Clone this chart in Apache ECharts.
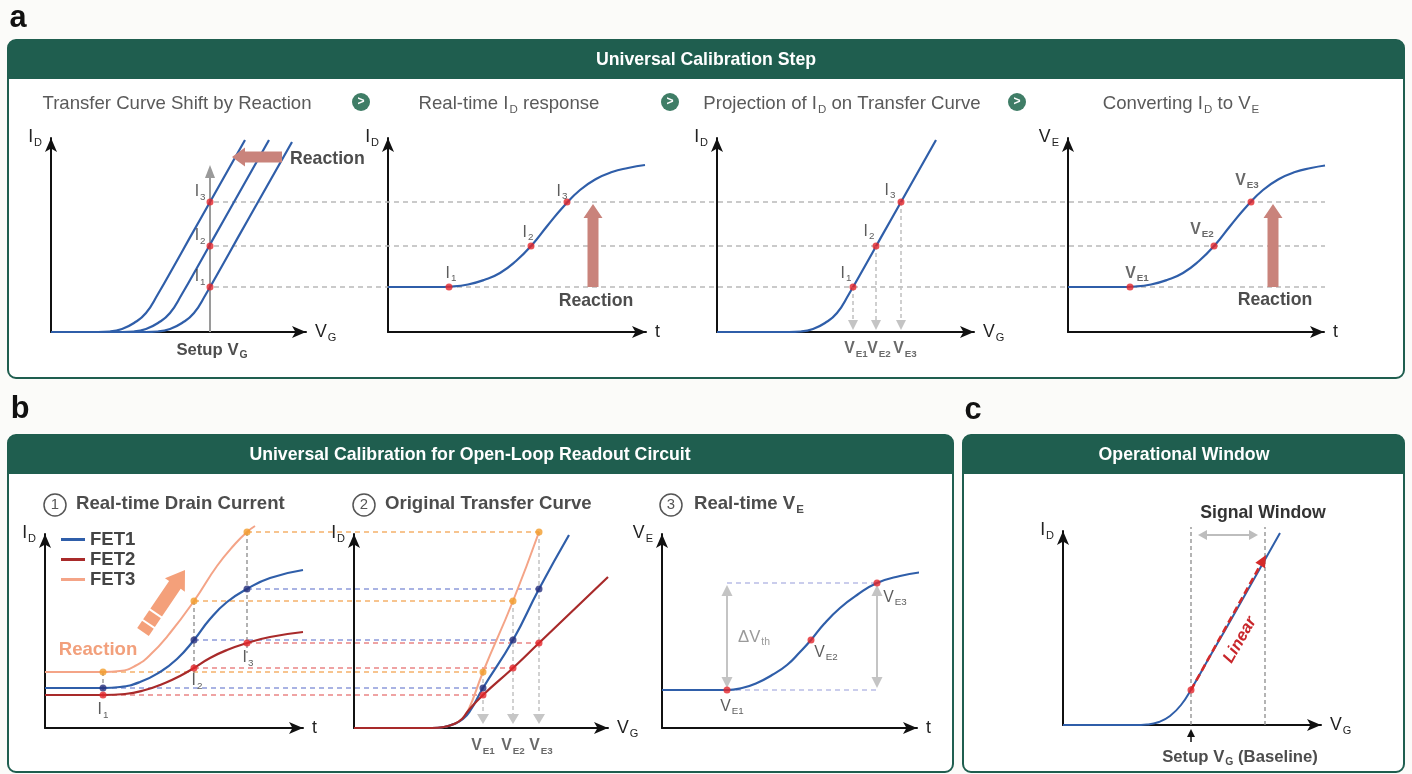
<!DOCTYPE html>
<html><head><meta charset="utf-8">
<script src="https://cdn.jsdelivr.net/npm/echarts@6/dist/echarts.min.js"></script>
<style>html,body{margin:0;padding:0;background:#fbfbf9}#c{width:1412px;height:774px}</style>
</head><body><div id="c"></div>
<script>
// ================= DATA (schematic units) =================
// Panel a-1: transfer curves shifted by reaction (x: V_G, y: I_D)
const a1CurveLeft  = [[0,0],[47,0],[59,0.5],[71,3],[83,9],[95,19],[107,38],[123,66],[139,94.6],[159,130],[194,192]];
const a1CurveMid   = [[0,0],[71,0],[83,0.5],[95,3],[107,9],[119,19],[131,38],[147,66],[163,94.6],[183,130],[218,192]];
const a1CurveRight = [[0,0],[95,0],[107,0.5],[119,3],[131,9],[143,19],[155,38],[171,66],[187,94.6],[207,130],[241,190]];
const setupVG = 159;
const currentLevels = [45, 86, 130];          // I1, I2, I3
const guideSpan = [163, 1274];                // extent of dashed I-level guides (a-1 units)
const setupArrow = [159, 0, 159, 167];
const a1ReactionArrow = [231, 175, 181, 175];
// Panel a-2: real-time I_D
const a2Curve = [[0,45],[48,45],[64,45.5],[80,47.5],[96,52],[112,59],[128,71],[144,87],[160,107],[176,126],[192,142],[208,153],[224,160],[240,164],[257,167]];
const a2Times = [61, 143, 179];
const a2ReactionArrow = [205, 45, 205, 128];
// Panel a-3: projection on transfer curve
const a3Curve = [[0,0],[72,0],[84,0.5],[96,3],[108,9],[120,19],[132,38],[148,66],[164,94.6],[184,130],[219,192]];
const a3VE = [136, 159, 184];
// Panel a-4: converting I_D to V_E
const a4Curve = [[0,45],[51,45],[67,45.5],[83,47.5],[99,52],[115,59],[131,71],[147,87],[163,107],[179,126],[195,142],[211,153],[227,160],[243,164],[257,166.5]];
const a4Times = [62, 146, 183];
const a4ReactionArrow = [205, 45, 205, 128];

// Panel b-1: real-time drain current
const fetNames = ['FET1', 'FET2', 'FET3'];
const b1FET1 = [[0,40],[58,40],[75,41],[95,46],[115,56],[132,69],[149,88],[165,109],[182,126],[202,139],[225,150],[258,158]];
const b1FET2 = [[0,33],[58,33],[80,34],[100,38],[120,45],[135,52],[149,60],[165,70],[182,78],[202,85],[225,91],[258,96]];
const b1FET3 = [[0,56],[58,56],[75,57],[90,62],[105,73],[125,95],[149,127],[172,162],[190,184],[202,196],[210,202]];
const b1Times = [58, 149, 202];
const b1FET1Pts = [40, 88, 139];
const b1FET2Pts = [33, 60, 85];
const b1FET3Pts = [56, 127, 196];
const b1DropEnd = [28, 55, 75];
const b1LinkEnd = [438, 468, 494];
const b1ReactionArrow = [98, 96, 140, 158];
// Panel b-2: original transfer curves
const b2FET1 = [[0,0],[78,0],[90,1],[100,4],[109,9],[116,17],[129,40],[159,88],[185,139],[215,193]];
const b2FET2 = [[0,0],[78,0],[90,1],[100,4],[108,9],[114,17],[129,33],[159,60],[185,85],[254,151]];
const b2FET3 = [[0,0],[78,0],[90,1],[100,4],[108,9],[114,17],[129,56],[159,127],[185,196]];
const b2VE = [129, 159, 185];
// Panel b-3: real-time V_E
const b3Curve = [[0,38],[55,38],[65,38],[80,40],[95,45],[110,53],[125,63],[138,76],[149,88],[162,104],[178,120],[195,133],[215,145],[238,152],[261,156]];
const b3Times = [65, 149, 215];
const b3VE = [38, 88, 145];
const b3Bracket = [40, 143];
// Panel c: operational window
const cCurve = [[0,0],[72,0],[84,0.5],[96,3],[107,9],[118,20],[129.5,38],[146,67],[165,100],[217,192]];
const cWindow = [128, 202];
const cWindowTop = 198;
const cBaselineI = 35;
const cLinearEnd = [203, 170];
const cWindowArrow = [135, 190, 195, 190];
const cSetupArrow = [128, -17, 128, -4];

// ================= FONTS =================
function hasFont(f){
  const c = document.createElement('canvas').getContext('2d');
  const s = 'abcdefghijklmnopqrstuvwxyz WMIl1 0123456789';
  c.font = '40px monospace'; const w1 = c.measureText(s).width;
  c.font = '40px serif'; const w2 = c.measureText(s).width;
  c.font = '40px "' + f + '", monospace'; const a = c.measureText(s).width;
  c.font = '40px "' + f + '", serif'; const b = c.measureText(s).width;
  return a !== w1 || b !== w2;
}
const NARROW = ['Liberation Sans Narrow','Arial Narrow','Nimbus Sans Narrow'].find(hasFont);
const FONT = NARROW ? '"' + NARROW + '", "Liberation Sans", Arial, sans-serif' : '"Liberation Sans", Arial, sans-serif';
const K = NARROW ? 1 : 0.93;
const fs = n => Math.round(n * K * 10) / 10;

// ================= STYLE =================
const GREEN = '#1f5e4f', GREEN2 = '#3f7d66';
const BLUE = '#2f5ea9', DRED = '#a82a2a', SALMON = '#f4a487';
const DOT_RED = '#e3262b', DOT_ORANGE = '#f39c2b', DOT_NAVY = '#27307c';
const PINK = '#c9837b', GUIDE = '#b9b9b9';
const TXT = '#4d4d4d';

// grid rectangles: left, top, width, height  (1 data unit = 1 px)
const G = [
  [51,138,255,194],[388,138,258,194],[717,138,257,194],[1068,138,256,194],
  [45,534,258,194],[354,534,254,194],[662,534,255,194],[1063,531,258,194]
];
const axisDefs = [
  ['V','G','I','D'],['t','','I','D'],['V','G','I','D'],['t','','V','E'],
  ['t','','I','D'],['V','G','I','D'],['t','','V','E'],['V','G','I','D']
];

function rich(size, weight, color){
  const m = fs(size), s = fs(size * 0.62);
  return {
    m: {fontSize: m, fontWeight: weight, color: color, fill: color, fontFamily: FONT},
    s: {fontSize: s, fontWeight: weight, color: color, fill: color, fontFamily: FONT, padding: [Math.round(m * 0.62), 0, 0, 1]}
  };
}
const sub = (m, s) => s ? '{m|' + m + '}{s|' + s + '}' : '{m|' + m + '}';

const grids = G.map(g => ({left: g[0], top: g[1], width: g[2], height: g[3], containLabel: false, outerBoundsMode: 'none', show: false}));
const axLine = {show: true, onZero: false, symbol: ['none','arrow'], symbolSize: [9,14], lineStyle: {color: '#111', width: 2}};
const xAxes = G.map((g,i) => ({
  gridIndex: i, type: 'value', min: 0, max: g[2], axisLine: axLine, axisTick: {show:false}, axisLabel: {show:false}, splitLine: {show:false},
  name: sub(axisDefs[i][0], axisDefs[i][1]), nameLocation: 'end', nameGap: 9, nameMoveOverlap: false,
  nameTextStyle: {align: 'left', verticalAlign: 'middle', rich: rich(19, 'normal', '#222')}
}));
const yAxes = G.map((g,i) => ({
  gridIndex: i, type: 'value', min: 0, max: g[3], axisLine: axLine, axisTick: {show:false}, axisLabel: {show:false}, splitLine: {show:false},
  name: sub(axisDefs[i][2], axisDefs[i][3]), nameLocation: 'end', nameGap: 12, nameMoveOverlap: false,
  nameTextStyle: {align: 'right', verticalAlign: 'top', padding: [0, 9, 0, 0], rich: rich(19, 'normal', '#222')}
}));

// ---------- series helpers ----------
function curve(gi, data, color, name, width){
  return {type: 'line', name: name, xAxisIndex: gi, yAxisIndex: gi, data: data, smooth: 0.5,
    showSymbol: false, clip: false, silent: true, z: 4, lineStyle: {color: color, width: width || 2.2}, itemStyle: {color: color}};
}
// straight (dashed) segments drawn through the axes' scales; allowed to run past the grid
function segs(gi, list, color, width, dash, z){
  return {type: 'custom', xAxisIndex: gi, yAxisIndex: gi, clip: false, silent: true, z: z || 2, data: list,
    renderItem: function(params, api){
      const a = api.coord([api.value(0), api.value(1)]), b = api.coord([api.value(2), api.value(3)]);
      return {type: 'line', shape: {x1: a[0], y1: a[1], x2: b[0], y2: b[1]}, style: {stroke: color, lineWidth: width, lineDash: dash || null}};
    }};
}
function dots(gi, pts, color, lab){
  return {type: 'scatter', xAxisIndex: gi, yAxisIndex: gi, symbolSize: lab && lab.hidden ? 0 : 7, clip: false, silent: true, z: 6,
    itemStyle: {color: color},
    data: pts.map((p, i) => lab ? {value: p, label: {show: true, formatter: lab.text[i], position: lab.pos, distance: lab.dist == null ? 3 : lab.dist,
      offset: lab.off ? lab.off[i] : [0,0], rich: lab.rich}} : {value: p})};
}
function arrows(gi, data, st){
  return {type: 'custom', xAxisIndex: gi, yAxisIndex: gi, clip: false, silent: true, z: st.z || 5, data: data,
    renderItem: function(params, api){
      const p1 = api.coord([api.value(0), api.value(1)]);
      const p2 = api.coord([api.value(2), api.value(3)]);
      const dx = p2[0]-p1[0], dy = p2[1]-p1[1], L = Math.hypot(dx, dy);
      const ux = dx/L, uy = dy/L, nx = -uy, ny = ux;
      const hl = st.headL, hw = st.headW/2;
      const ch = [];
      if (st.block){
        const s = st.shaft/2, bx = p2[0]-ux*hl, by = p2[1]-uy*hl;
        ch.push({type: 'polygon', shape: {points: [[p1[0]+nx*s,p1[1]+ny*s],[bx+nx*s,by+ny*s],[bx+nx*hw,by+ny*hw],[p2[0],p2[1]],
          [bx-nx*hw,by-ny*hw],[bx-nx*s,by-ny*s],[p1[0]-nx*s,p1[1]-ny*s]]}, style: {fill: st.color}});
        (st.stripes || []).forEach(f => {
          const cx = p1[0]+dx*f, cy = p1[1]+dy*f;
          ch.push({type: 'line', shape: {x1: cx+nx*(s+1), y1: cy+ny*(s+1), x2: cx-nx*(s+1), y2: cy-ny*(s+1)}, style: {stroke: '#fff', lineWidth: 2}});
        });
      } else {
        const sx = st.double ? p1[0]+ux*hl*0.8 : p1[0], sy = st.double ? p1[1]+uy*hl*0.8 : p1[1];
        const ex = p2[0]-ux*hl*0.8, ey = p2[1]-uy*hl*0.8;
        ch.push({type: 'line', shape: {x1: sx, y1: sy, x2: ex, y2: ey}, style: {stroke: st.color, lineWidth: st.width, lineDash: st.dash || null}});
        const head = (t, d) => ({type: 'polygon', shape: {points: [[t[0],t[1]],[t[0]-d[0]*hl+nx*hw, t[1]-d[1]*hl+ny*hw],[t[0]-d[0]*hl-nx*hw, t[1]-d[1]*hl-ny*hw]]},
          style: {fill: st.color}});
        ch.push(head(p2, [ux, uy]));
        if (st.double) ch.push(head(p1, [-ux, -uy]));
      }
      return {type: 'group', children: ch};
    }};
}

const LR = rich(17, 'normal', '#333');
const LRB = rich(17, 'bold', '#444');
const S = [];

// ---- panel a-1
S.push(segs(0, currentLevels.map(lv => [guideSpan[0], lv, guideSpan[1], lv]), GUIDE, 1.6, [5,4], 1));
S.push(curve(0, a1CurveLeft, BLUE), curve(0, a1CurveMid, BLUE), curve(0, a1CurveRight, BLUE));
S.push(arrows(0, [setupArrow], {color: '#9a9a9a', width: 2, headL: 13, headW: 10, z: 3}));
S.push(dots(0, currentLevels.map(lv => [setupVG, lv]), DOT_RED,
  {text: ['1','2','3'].map(n => sub('I', n)), pos: 'left', dist: 1, off: [[0,-10],[0,-10],[0,-10]], rich: LR}));
S.push(arrows(0, [a1ReactionArrow], {block: true, color: PINK, shaft: 11, headW: 19, headL: 13}));
// ---- panel a-2
S.push(curve(1, a2Curve, BLUE));
S.push(dots(1, a2Times.map((t,i) => [t, currentLevels[i]]), DOT_RED,
  {text: ['1','2','3'].map(n => sub('I', n)), pos: 'top', dist: 2, off: [[2,2],[-3,2],[-5,5]], rich: LR}));
S.push(arrows(1, [a2ReactionArrow], {block: true, color: PINK, shaft: 11, headW: 19, headL: 14}));
// ---- panel a-3
S.push(curve(2, a3Curve, BLUE));
S.push(arrows(2, a3VE.map((x,i) => [x, currentLevels[i], x, 2]), {color: '#c4c4c4', width: 1.6, dash: [4,3], headL: 10, headW: 10}));
S.push(dots(2, a3VE.map((x,i) => [x, currentLevels[i]]), DOT_RED,
  {text: ['1','2','3'].map(n => sub('I', n)), pos: 'top', dist: 2, off: [[-7,2],[-7,1],[-11,4]], rich: LR}));
S.push(dots(2, a3VE.map(x => [x, 0]), 'rgba(0,0,0,0)',
  {hidden: true, text: ['E1','E2','E3'].map(n => sub('V', n)), pos: 'bottom', dist: 7, off: [[3,0],[3,0],[4,0]], rich: LRB}));
// ---- panel a-4
S.push(curve(3, a4Curve, BLUE));
S.push(dots(3, a4Times.map((t,i) => [t, currentLevels[i]]), DOT_RED,
  {text: ['E1','E2','E3'].map(n => sub('V', n)), pos: 'top', dist: 2, off: [[7,2],[-12,-1],[-4,-6]], rich: LRB}));
S.push(arrows(3, [a4ReactionArrow], {block: true, color: PINK, shaft: 11, headW: 19, headL: 14}));

// ---- panel b-1
const fetPts = [b1FET1Pts, b1FET2Pts, b1FET3Pts];
const linkCol = ['#a9b3e3', '#efa3a3', '#f7c48f'];
fetPts.forEach((vals, f) => S.push(segs(4, vals.map((v, i) => [b1Times[i], v, b1LinkEnd[i], v]), linkCol[f], 1.8, [5,4], 1)));
S.push(segs(4, b1Times.map((t, i) => [t, b1FET3Pts[i], t, b1DropEnd[i]]), '#8a8a8a', 1.3, [4,3], 2));
S.push(curve(4, b1FET3, SALMON, 'FET3', 2), curve(4, b1FET1, BLUE, 'FET1'), curve(4, b1FET2, DRED, 'FET2'));
S.push(dots(4, b1Times.map((t,i) => [t, b1FET3Pts[i]]), DOT_ORANGE));
S.push(dots(4, b1Times.map((t,i) => [t, b1FET1Pts[i]]), DOT_NAVY));
S.push(dots(4, b1Times.map((t,i) => [t, b1FET2Pts[i]]), DOT_RED));
S.push(dots(4, b1Times.map((t,i) => [t, b1DropEnd[i]]), 'rgba(0,0,0,0)',
  {hidden: true, text: ['1','2','3'].map(n => sub('I', n)), pos: 'bottom', dist: 0, off: [[0,0],[3,-2],[1,-5]], rich: LR}));
S.push(arrows(4, [b1ReactionArrow], {block: true, color: '#f4a07a', shaft: 14, headW: 24, headL: 18, stripes: [0.13, 0.3]}));
// ---- panel b-2
S.push(arrows(5, b2VE.map((x,i) => [x, b1FET3Pts[i], x, 4]), {color: '#c6c6c6', width: 1.6, dash: [4,3], headL: 10, headW: 12, z: 3}));
S.push(curve(5, b2FET3, SALMON, 'FET3', 2), curve(5, b2FET1, BLUE, 'FET1'), curve(5, b2FET2, DRED, 'FET2'));
S.push(dots(5, b2VE.map((x,i) => [x, b1FET3Pts[i]]), DOT_ORANGE));
S.push(dots(5, b2VE.map((x,i) => [x, b1FET1Pts[i]]), DOT_NAVY));
S.push(dots(5, b2VE.map((x,i) => [x, b1FET2Pts[i]]), DOT_RED));
S.push(dots(5, b2VE.map(x => [x, 0]), 'rgba(0,0,0,0)',
  {hidden: true, text: ['E1','E2','E3'].map(n => sub('V', n)), pos: 'bottom', dist: 8, off: [[0,0],[0,0],[2,0]], rich: LRB}));
// ---- panel b-3
S.push(segs(6, [[b3Times[0], b3VE[2], b3Times[2], b3VE[2]], [b3Times[0], b3VE[0], b3Times[2], b3VE[0]]], '#b9bde6', 1.6, [5,4], 1));
S.push(arrows(6, [[b3Times[0], b3Bracket[0], b3Times[0], b3Bracket[1]], [b3Times[2], b3Bracket[0], b3Times[2], b3Bracket[1]]],
  {color: '#c4c4c4', width: 2, headL: 11, headW: 11, double: true, z: 3}));
S.push(curve(6, b3Curve, BLUE));
S.push(dots(6, b3Times.map((t,i) => [t, b3VE[i]]), DOT_RED,
  {text: ['E1','E2','E3'].map(n => sub('V', n)), pos: 'bottom', dist: 3, off: [[5,0],[15,-4],[18,-2]], rich: LR}));
// ---- panel c
S.push(segs(7, cWindow.map(x => [x, 0, x, cWindowTop]), '#8c8c8c', 1.3, [4,3], 1));
S.push(arrows(7, [cWindowArrow], {color: '#bdbdbd', width: 2, headL: 9, headW: 10, double: true}));
S.push(curve(7, cCurve, BLUE, null, 2));
S.push(arrows(7, [[cWindow[0], cBaselineI, cLinearEnd[0], cLinearEnd[1]]], {color: '#d42a2a', width: 2.6, dash: [7,4], headL: 12, headW: 11, z: 6}));
S.push(dots(7, [[cWindow[0], cBaselineI]], DOT_RED));
S.push(arrows(7, [cSetupArrow], {color: '#111', width: 1.5, headL: 8, headW: 8}));

// ---------- graphic (panels, headers, titles, annotations) ----------
const GR = [];
function panel(x, y, w, h, title, tx){
  GR.push({type: 'rect', z: 0, silent: true, shape: {x: x, y: y, width: w, height: h, r: 8}, style: {fill: '#ffffff', stroke: GREEN, lineWidth: 2}});
  GR.push({type: 'rect', z: 1, silent: true, shape: {x: x, y: y, width: w, height: 39, r: [8,8,0,0]}, style: {fill: GREEN}});
  GR.push(T(tx, y + 20, title, {size: 19, weight: 'bold', color: '#ffffff'}));
}
function T(x, y, text, o){
  o = o || {};
  const c = o.color || TXT;
  return {type: 'text', x: x, y: y, z: 50, silent: true, rotation: o.rot || 0,
    style: {text: text, fill: c, fontSize: fs(o.size || 18), fontWeight: o.weight || 'normal', fontStyle: o.italic ? 'italic' : 'normal',
      fontFamily: o.family || FONT, align: o.align || 'center', verticalAlign: 'middle', rich: o.rich || rich(o.size || 18, o.weight || 'normal', c)}};
}
panel(8, 40, 1396, 338, 'Universal Calibration Step', 706);
panel(8, 435, 945, 337, 'Universal Calibration for Open-Loop Readout Circuit', 470);
panel(963, 435, 441, 337, 'Operational Window', 1184);
const LETTER = '"Liberation Sans", Arial, sans-serif';
GR.push(T(18, 19, 'a', {size: 33, weight: 'bold', color: '#111', family: LETTER}));
GR.push(T(20, 410, 'b', {size: 33, weight: 'bold', color: '#111', family: LETTER}));
GR.push(T(973, 411, 'c', {size: 33, weight: 'bold', color: '#111', family: LETTER}));
// panel a step titles
const STC = '#5a5a5a';
GR.push(T(177, 104, 'Transfer Curve Shift by Reaction', {size: 20, color: STC}));
GR.push(T(509, 104, 'Real-time I{s|D} response', {size: 20, color: STC}));
GR.push(T(842, 104, 'Projection of I{s|D} on Transfer Curve', {size: 20, color: STC}));
GR.push(T(1181, 104, 'Converting I{s|D} to V{s|E}', {size: 20, color: STC}));
[361, 670, 1017].forEach(x => {
  GR.push({type: 'circle', z: 2, silent: true, shape: {cx: x, cy: 102, r: 9}, style: {fill: GREEN2}});
  GR.push(T(x, 102, '>', {size: 13, weight: 'bold', color: '#fff'}));
});
// panel b step titles
[[55, 76, '1', 'Real-time Drain Current'], [364, 385, '2', 'Original Transfer Curve'], [671, 694, '3', 'Real-time V{s|E}']].forEach(d => {
  GR.push({type: 'circle', z: 2, silent: true, shape: {cx: d[0], cy: 505, r: 11}, style: {fill: 'none', stroke: '#555', lineWidth: 1.5}});
  GR.push(T(d[0], 505, d[2], {size: 16, color: '#555'}));
  GR.push(T(d[1], 504, d[3], {size: 20, weight: 'bold', color: TXT, align: 'left'}));
});
// annotations
GR.push(T(290, 159, 'Reaction', {size: 19, weight: 'bold', align: 'left'}));
GR.push(T(596, 301, 'Reaction', {size: 19, weight: 'bold'}));
GR.push(T(1275, 300, 'Reaction', {size: 19, weight: 'bold'}));
GR.push(T(212, 350, 'Setup V{s|G}', {size: 18, weight: 'bold'}));
GR.push(T(98, 650, 'Reaction', {size: 20, weight: 'bold', color: '#f2a07c'}));
GR.push(T(754, 637, '\u0394V{s|th}', {size: 18, color: '#9a9a9a'}));
GR.push(T(1263, 513, 'Signal Window', {size: 19, weight: 'bold', color: '#333'}));
GR.push(T(1240, 640, 'Linear', {size: 18, weight: 'bold', italic: true, color: '#c8262b', rot: 1.05}));
GR.push(T(1240, 757, 'Setup V{s|G} (Baseline)', {size: 18, weight: 'bold'}));

const option = {
  backgroundColor: '#fbfbf9',
  animation: false,
  textStyle: {fontFamily: FONT},
  grid: grids, xAxis: xAxes, yAxis: yAxes,
  legend: {data: fetNames, orient: 'vertical', left: 56, top: 525, itemWidth: 24, itemHeight: 3, icon: 'rect', itemGap: 1,
    selectedMode: false, textStyle: {fontSize: fs(20), fontWeight: 'bold', color: '#444', fontFamily: FONT}},
  graphic: {elements: GR},
  series: S
};
const chart = echarts.init(document.getElementById('c'), null, {renderer: 'canvas'});
chart.setOption(option);
</script></body></html>
